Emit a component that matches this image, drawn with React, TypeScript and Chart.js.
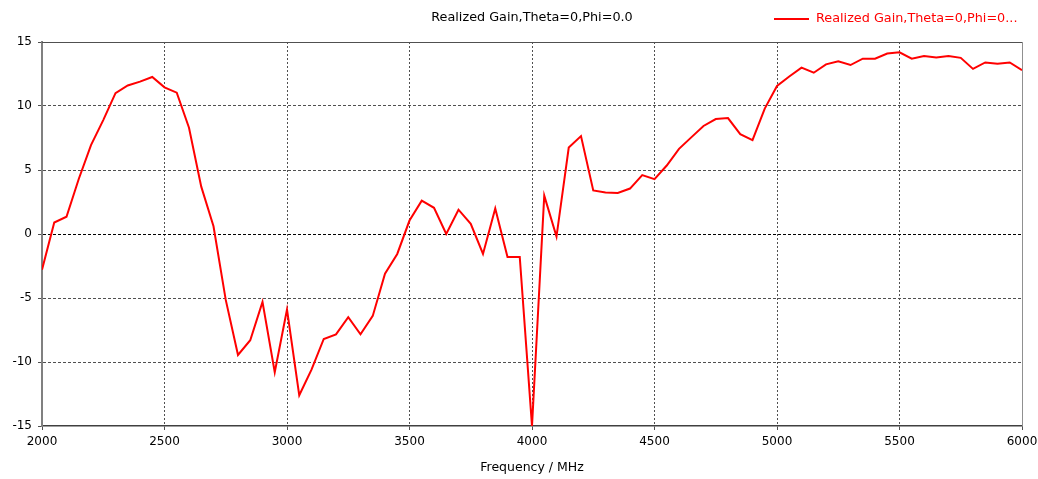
import React, { useEffect, useRef } from "react";
import { Chart, registerables } from "chart.js";

Chart.register(...registerables);

const frequencies = [
  2000, 2050, 2100, 2150, 2200, 2250, 2300, 2350, 2400, 2450,
  2500, 2550, 2600, 2650, 2700, 2750, 2800, 2850, 2900, 2950,
  3000, 3050, 3100, 3150, 3200, 3250, 3300, 3350, 3400, 3450,
  3500, 3550, 3600, 3650, 3700, 3750, 3800, 3850, 3900, 3950,
  4000, 4050, 4100, 4150, 4200, 4250, 4300, 4350, 4400, 4450,
  4500, 4550, 4600, 4650, 4700, 4750, 4800, 4850, 4900, 4950,
  5000, 5050, 5100, 5150, 5200, 5250, 5300, 5350, 5400, 5450,
  5500, 5550, 5600, 5650, 5700, 5750, 5800, 5850, 5900, 5950,
  6000,
];

const gain = [
  -2.8, 0.9, 1.35, 4.3, 6.95, 8.9, 11.0, 11.6, 11.9, 12.27,
  11.46, 11.04, 8.3, 3.7, 0.6, -5.15, -9.45, -8.3, -5.3, -10.8,
  -5.9, -12.6, -10.6, -8.2, -7.84, -6.5, -7.84, -6.4, -3.1, -1.56,
  1.05, 2.6, 2.05, 0.0, 1.9, 0.8, -1.56, 2.0, -1.8, -1.8,
  -15.0, 3.0, -0.2, 6.75, 7.65, 3.4, 3.25, 3.2, 3.55, 4.6,
  4.28, 5.35, 6.65, 7.55, 8.44, 8.98, 9.06, 7.8, 7.34, 9.8,
  11.56, 12.3, 13.0, 12.6, 13.25, 13.5, 13.2, 13.7, 13.7, 14.1,
  14.2, 13.7, 13.9, 13.78, 13.9, 13.76, 12.9, 13.4, 13.3, 13.4,
  12.8,
];

const chartTitle = "Realized Gain,Theta=0,Phi=0.0";
const legendLabel = "Realized Gain,Theta=0,Phi=0...";
const xAxisTitle = "Frequency / MHz";
const xTicks = [2000, 2500, 3000, 3500, 4000, 4500, 5000, 5500, 6000];
const yTicks = [-15, -10, -5, 0, 5, 10, 15];

const FONT = "'DejaVu Sans', sans-serif";

const framePlugin = {
  id: "frame",
  afterDraw(chart: any) {
    const { ctx, chartArea } = chart;
    const { left, right, top, bottom } = chartArea;
    ctx.save();
    ctx.strokeStyle = "#505050";
    ctx.lineWidth = 1;
    ctx.beginPath();
    ctx.moveTo(left, top + 0.5);
    ctx.lineTo(right, top + 0.5);
    ctx.stroke();
    ctx.strokeStyle = "#909090";
    ctx.beginPath();
    ctx.moveTo(right + 0.5, top);
    ctx.lineTo(right + 0.5, bottom);
    ctx.stroke();
    ctx.fillStyle = "#000000";
    ctx.font = `12.8px ${FONT}`;
    ctx.textAlign = "center";
    ctx.textBaseline = "middle";
    ctx.fillText(chartTitle, (left + right) / 2, 18);
    ctx.strokeStyle = "#ff0000";
    ctx.lineWidth = 2;
    ctx.beginPath();
    ctx.moveTo(774, 19);
    ctx.lineTo(809, 19);
    ctx.stroke();
    ctx.fillStyle = "#ff0000";
    ctx.textAlign = "left";
    ctx.fillText(legendLabel, 816, 19);
    ctx.restore();
  },
};

export default function App() {
  const ref = useRef<HTMLCanvasElement | null>(null);

  useEffect(() => {
    document.body.style.margin = "0";
    const canvas = ref.current;
    if (!canvas) return;
    const chart = new Chart(canvas, {
      type: "line",
      data: {
        datasets: [
          {
            label: legendLabel,
            data: frequencies.map((f, i) => ({ x: f, y: gain[i] })),
            borderColor: "#ff0000",
            backgroundColor: "#ff0000",
            borderWidth: 2,
            pointRadius: 0,
            tension: 0,
            fill: false,
          },
        ],
      },
      options: {
        responsive: false,
        animation: false,
        events: [],
        layout: { padding: { left: 0, right: 16, top: 42, bottom: 0 } },
        plugins: {
          legend: { display: false },
          title: { display: false },
          tooltip: { enabled: false },
        },
        scales: {
          x: {
            type: "linear",
            min: 2000,
            max: 6000,
            afterBuildTicks: (scale: any) => {
              scale.ticks = xTicks.map((v) => ({ value: v }));
            },
            afterFit: (scale: any) => {
              scale.height = 53;
              scale.paddingLeft = 0;
              scale.paddingRight = 0;
            },
            ticks: {
              color: "#000000",
              font: { family: FONT, size: 12 },
              padding: 5,
              maxRotation: 0,
              callback: (v: any) => String(v),
            },
            grid: {
              color: (c: any) =>
                c.tick && (c.tick.value === 2000 || c.tick.value === 6000) ? "rgba(0,0,0,0)" : "#505050",
              lineWidth: 1,
              tickLength: 4,
              tickColor: "#505050",
            },
            border: { display: true, color: "#404040", width: 1.5, dash: [2, 2] },
            title: {
              display: true,
              text: xAxisTitle,
              color: "#000000",
              font: { family: FONT, size: 12.5 },
              padding: { top: 0, bottom: 4 },
            },
          },
          y: {
            type: "linear",
            min: -15,
            max: 15,
            afterBuildTicks: (scale: any) => {
              scale.ticks = yTicks.map((v) => ({ value: v }));
            },
            afterFit: (scale: any) => {
              scale.width = 42;
              scale.paddingTop = 0;
              scale.paddingBottom = 0;
            },
            ticks: {
              color: "#000000",
              font: { family: FONT, size: 12 },
              padding: 6,
              callback: (v: any) => String(v),
            },
            grid: {
              color: (c: any) => {
                if (!c.tick) return "#505050";
                if (c.tick.value === 15 || c.tick.value === -15) return "rgba(0,0,0,0)";
                return c.tick.value === 0 ? "#000000" : "#505050";
              },
              lineWidth: 1,
              tickLength: 4,
              tickColor: "#505050",
            },
            border: { display: true, color: "#808080", width: 2, dash: [3, 2] },
          },
        },
      },
      plugins: [framePlugin],
    });
    return () => chart.destroy();
  }, []);

  return (
    <div style={{ position: "absolute", left: 0, top: 0, width: 1038, height: 479, background: "#ffffff" }}>
      <canvas ref={ref} width={1038} height={479} style={{ width: 1038, height: 479, display: "block" }} />
    </div>
  );
}
